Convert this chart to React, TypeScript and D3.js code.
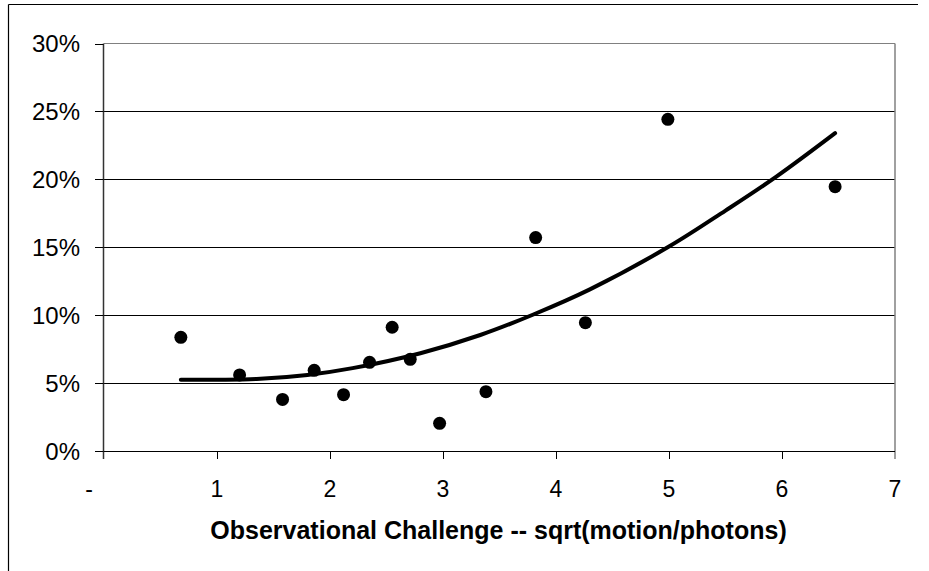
import React from 'react';
import * as d3 from 'd3';

// observed points: x = sqrt(motion/photons), y = rate (%)
const obsX = [0.68, 1.2, 1.58, 1.86, 2.12, 2.35, 2.55, 2.71, 2.97, 3.38, 3.82, 4.26, 4.99, 6.47];
const obsY = [8.37, 5.6, 3.8, 5.94, 4.15, 6.53, 9.11, 6.75, 2.04, 4.37, 15.71, 9.45, 24.42, 19.46];

// trend line
const trendX = [0.68, 1.0, 1.35, 1.8, 2.2, 2.8, 3.33, 3.8, 4.3, 5.0, 5.5, 5.95, 6.47];
const trendY = [5.25, 5.25, 5.3, 5.6, 6.1, 7.2, 8.54, 10.05, 11.9, 15.05, 17.7, 20.2, 23.4];

const xTicks = [0, 1, 2, 3, 4, 5, 6, 7];
const xTickLabels = ['-', '1', '2', '3', '4', '5', '6', '7'];
const yTicks = [0, 5, 10, 15, 20, 25, 30];
const xTitle = 'Observational Challenge -- sqrt(motion/photons)';

const W = 929;
const H = 571;
const plot = { left: 104, right: 895, top: 43.5, bottom: 451 };
const font = '"Liberation Sans", Arial, sans-serif';

export default function App() {
  const x = d3.scaleLinear().domain([0, 7]).range([plot.left, plot.right]);
  const y = d3.scaleLinear().domain([0, 30]).range([plot.bottom, plot.top]);

  const trend = d3.line<number>()
    .x((d) => x(d))
    .y((_, i) => y(trendY[i]))
    .curve(d3.curveCatmullRom)(trendX);

  return (
    <svg width={W} height={H} style={{ position: 'absolute', left: 0, top: 0, background: '#fff' }}>
      {/* chart border (left/top visible) */}
      <line x1={8.5} x2={8.5} y1={4.5} y2={H} stroke="#000" strokeWidth={1.2} />
      <line x1={8.5} x2={918} y1={4.5} y2={4.5} stroke="#000" strokeWidth={1.2} />

      {/* gridlines */}
      {yTicks.slice(1, -1).map((t) => (
        <line key={t} x1={plot.left} x2={plot.right} y1={Math.round(y(t)) + 0.5} y2={Math.round(y(t)) + 0.5} stroke="#000" strokeWidth={1} />
      ))}
      {/* plot area border */}
      <line x1={plot.left} x2={plot.right} y1={43.5} y2={43.5} stroke="#808080" strokeWidth={1} />
      <line x1={plot.right} x2={plot.right} y1={plot.top} y2={plot.bottom + 8} stroke="#808080" strokeWidth={1.5} />

      {/* y axis */}
      <line x1={103.5} x2={103.5} y1={plot.top} y2={plot.bottom + 8} stroke="#333" strokeWidth={1.5} />
      {yTicks.map((t) => (
        <g key={t}>
          <line x1={95} x2={103.5} y1={Math.round(y(t)) + 0.5} y2={Math.round(y(t)) + 0.5} stroke="#000" strokeWidth={1} />
          <text x={80} y={y(t)} dy="0.36em" textAnchor="end" fontFamily={font} fontSize={24} fill="#000">
            {`${t}%`}
          </text>
        </g>
      ))}

      {/* x axis */}
      <line x1={plot.left} x2={plot.right} y1={plot.bottom + 0.5} y2={plot.bottom + 0.5} stroke="#000" strokeWidth={1.2} />
      {xTicks.map((t, i) => (
        <g key={t}>
          {i > 0 && i < xTicks.length - 1 && (
            <line x1={Math.round(x(t)) + 0.5} x2={Math.round(x(t)) + 0.5} y1={plot.bottom} y2={plot.bottom + 8} stroke="#000" strokeWidth={1} />
          )}
          <text x={i === 0 ? 89 : x(t)} y={497} textAnchor="middle" fontFamily={font} fontSize={23} fill="#000">
            {xTickLabels[i]}
          </text>
        </g>
      ))}
      <text x={(plot.left + plot.right) / 2 - 1} y={538.5} textAnchor="middle" fontFamily={font} fontSize={25} fontWeight="bold" fill="#000">
        {xTitle}
      </text>

      {/* trend line */}
      <path d={trend ?? ''} fill="none" stroke="#000" strokeWidth={4} strokeLinecap="round" />

      {/* points */}
      {obsX.map((v, i) => (
        <circle key={i} cx={x(v)} cy={y(obsY[i])} r={6.5} fill="#000" />
      ))}
    </svg>
  );
}
